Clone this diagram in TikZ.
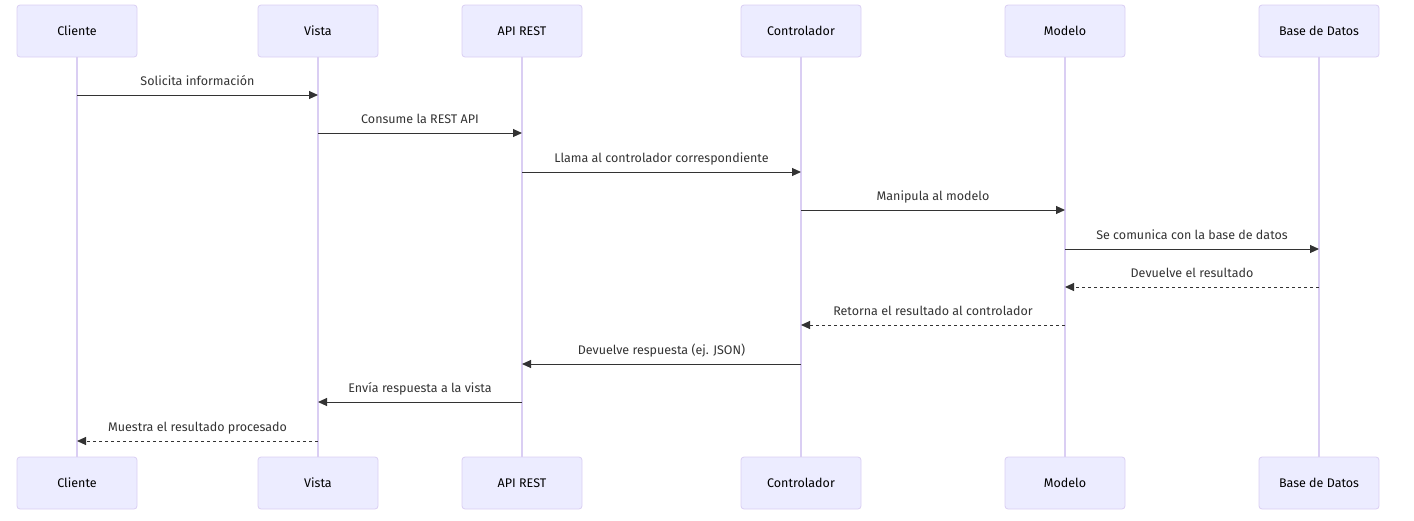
\documentclass[tikz,border=0pt]{standalone}
\usepackage{fontspec}
\setmainfont{Fira Sans}
\usetikzlibrary{arrows.meta,positioning}

\definecolor{actorfill}{HTML}{ECECFF}
\definecolor{actorline}{HTML}{DACEF3}
\definecolor{msgline}{HTML}{333333}

\begin{document}
\begin{tikzpicture}[x=1pt, y=-1pt, >={Triangle[length=9pt,width=8pt]}]
			\tikzset{
				actor/.style={rectangle, rounded corners=3pt, minimum width=120pt, minimum height=52pt, draw=actorline, fill=actorfill, font=\fontsize{12.5}{14}\selectfont, line width=0.8pt},
				lifeline/.style={draw=actorline, line width=1.2pt},
				msg/.style={->, draw=msgline, line width=1pt},
				reply/.style={msg, dash pattern=on 3pt off 3pt},
				msglabel/.style={text=msgline, font=\fontsize{12.5}{14}\selectfont, inner sep=0pt, text height=9pt, text depth=3pt, above=6pt},
			}
			\useasboundingbox (0,0) rectangle (1414,520);
			% actors, top row
			\node[actor](cliente) at (77,31) {Cliente};
			\node[actor](vista) at (318,31) {Vista};
			\node[actor](api) at (522,31) {API REST};
			\node[actor](ctrl) at (801,31) {Controlador};
			\node[actor](modelo) at (1065,31) {Modelo};
			\node[actor](bd) at (1319,31) {Base de Datos};
			% actors, bottom row
			\node[actor](cliente2) at (77,483) {Cliente};
			\node[actor](vista2) at (318,483) {Vista};
			\node[actor](api2) at (522,483) {API REST};
			\node[actor](ctrl2) at (801,483) {Controlador};
			\node[actor](modelo2) at (1065,483) {Modelo};
			\node[actor](bd2) at (1319,483) {Base de Datos};
			%Draw lifelines
			\draw[lifeline] (cliente) -- (cliente2);
			\draw[lifeline] (vista) -- (vista2);
			\draw[lifeline] (api) -- (api2);
			\draw[lifeline] (ctrl) -- (ctrl2);
			\draw[lifeline] (modelo) -- (modelo2);
			\draw[lifeline] (bd) -- (bd2);
			% message rows
			\coordinate (m1) at (0,95);
			\coordinate (m2) at (0,133);
			\coordinate (m3) at (0,172);
			\coordinate (m4) at (0,210);
			\coordinate (m5) at (0,249);
			\coordinate (m6) at (0,287);
			\coordinate (m7) at (0,325);
			\coordinate (m8) at (0,364);
			\coordinate (m9) at (0,402);
			\coordinate (m10) at (0,441);
			%Draw messages
			\draw[msg] (cliente |- m1) -- node[msglabel] {Solicita información} (vista |- m1);
			\draw[msg] (vista |- m2) -- node[msglabel] {Consume la REST API} (api |- m2);
			\draw[msg] (api |- m3) -- node[msglabel] {Llama al controlador correspondiente} (ctrl |- m3);
			\draw[msg] (ctrl |- m4) -- node[msglabel] {Manipula al modelo} (modelo |- m4);
			\draw[msg] (modelo |- m5) -- node[msglabel] {Se comunica con la base de datos} (bd |- m5);
			\draw[reply] (bd |- m6) -- node[msglabel] {Devuelve el resultado} (modelo |- m6);
			\draw[reply] (modelo |- m7) -- node[msglabel] {Retorna el resultado al controlador} (ctrl |- m7);
			\draw[msg] (ctrl |- m8) -- node[msglabel] {Devuelve respuesta (ej. JSON)} (api |- m8);
			\draw[msg] (api |- m9) -- node[msglabel] {Envía respuesta a la vista} (vista |- m9);
			\draw[reply] (vista |- m10) -- node[msglabel] {Muestra el resultado procesado} (cliente |- m10);
		\end{tikzpicture}
\end{document}
